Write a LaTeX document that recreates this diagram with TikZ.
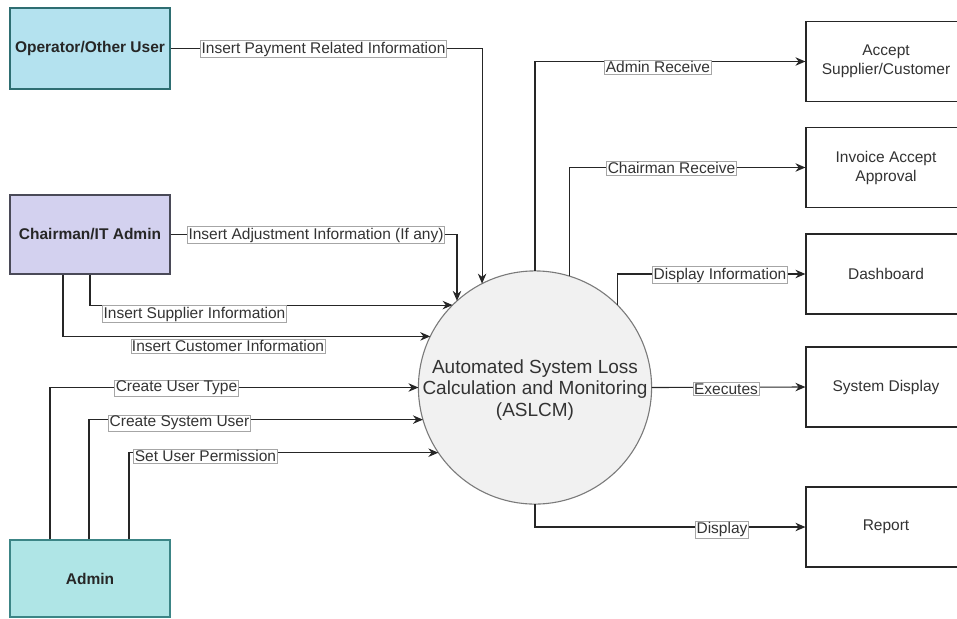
\documentclass[tikz,border=0pt]{standalone}
\usepackage{fontspec}
\setmainfont{Liberation Sans}
\usetikzlibrary{arrows.meta}
\definecolor{opfill}{HTML}{B4E2EF}
\definecolor{opline}{HTML}{2E6E72}
\definecolor{chfill}{HTML}{D3D1EF}
\definecolor{chline}{HTML}{4A4A58}
\definecolor{adfill}{HTML}{AFE5E6}
\definecolor{adline}{HTML}{3C8586}
\definecolor{sysfill}{HTML}{F1F1F1}
\definecolor{sysline}{HTML}{7A7A7A}
\definecolor{txt}{HTML}{333333}
\begin{document}
\begin{tikzpicture}[x=1pt,y=-1pt,
  actor/.style={draw, line width=1.2pt, minimum width=160pt, inner sep=0pt,
    font=\fontsize{15.5}{18}\selectfont\bfseries, text=black!85},
  sink/.style={draw=black!85, line width=1.2pt, fill=white, minimum width=160pt,
    minimum height=80pt, inner sep=0pt, align=center, text=txt,
    font=\fontsize{15.5}{19}\selectfont},
  flow/.style={draw=black!85, line width=1.1pt, -{Stealth[length=10pt,width=8.5pt]}},
  lbl/.style={draw=black!35, line width=0.5pt, fill=white, inner sep=1.2pt,
    text=txt, font=\fontsize{15.5}{18}\selectfont}]
\useasboundingbox (0,0) rectangle (957,618);
\clip (0,0) rectangle (957,618);

% external entities
\node[actor, fill=opfill, draw=opline, minimum height=81pt] (op) at (90,48.5) {Operator/Other User};
\node[actor, fill=chfill, draw=chline, minimum height=79pt] (ch) at (90,234.5) {Chairman/IT Admin};
\node[actor, fill=adfill, draw=adline, minimum height=77pt] (adm) at (90,578.5) {Admin};

% central process
\node[circle, draw=sysline, fill=sysfill, line width=1.1pt, minimum size=226pt,
  inner sep=0pt, outer sep=0pt, text=txt,
  font=\fontsize{19}{21.5}\selectfont] (sys) at (535,387.5)
  {\raisebox{-3pt}[\height][\depth]{\begin{tabular}{@{}c@{}}Automated System Loss\\Calculation and Monitoring\\(ASLCM)\end{tabular}}};

% outputs
\node[sink] (acc) at (886,61.5) {Accept\\Supplier/Customer};
\node[sink] (inv) at (886,167.5) {Invoice Accept\\Approval};
\node[sink] (dash) at (886,274) {Dashboard};
\node[sink] (sdisp) at (886,387) {System Display};
\node[sink] (rep) at (886,527) {Report};

% incoming flows
\draw[flow] (op.east) -| (sys.117);
\draw[flow] (ch.east) -| (sys.132);
\draw[flow] (ch.south) |- (sys.135);
\draw[flow] ([xshift=-27pt]ch.south) |- (sys.154);
\draw[flow] ([xshift=-40pt]adm.north) |- (sys.180);
\draw[flow] ([xshift=-1pt]adm.north) |- (sys.196);
\draw[flow] ([xshift=39pt]adm.north) |- (sys.214);

% outgoing flows
\draw[flow] (sys.90) |- (acc.west);
\draw[flow] (sys.73) |- (inv.west);
\draw[flow] (sys.45) |- (dash.west);
\draw[flow] (sys.0) -- (sdisp.west);
\draw[flow] (sys.270) |- (rep.west);

% flow labels
\node[lbl] (l1) at (323.5,49) {Insert Payment Related Information};
\node[lbl] (l2) at (316,235) {Insert Adjustment Information (If any)};
\node[lbl] (l3) at (194.5,314) {Insert Supplier Information};
\node[lbl] (l4) at (228,346) {Insert Customer Information};
\node[lbl] (l5) at (176.5,388) {Create User Type};
\node[lbl] (l6) at (179.5,423) {Create System User};
\node[lbl] (l7) at (205.5,456) {Set User Permission};
\node[lbl] (l8) at (658,67) {Admin Receive};
\node[lbl] (l9) at (671.5,168) {Chairman Receive};
\node[lbl] (l10) at (720,275) {Display Information};
\node[lbl] (l11) at (726,389) {Executes};
\node[lbl] (l12) at (722,529.5) {Display};
\end{tikzpicture}
\end{document}
